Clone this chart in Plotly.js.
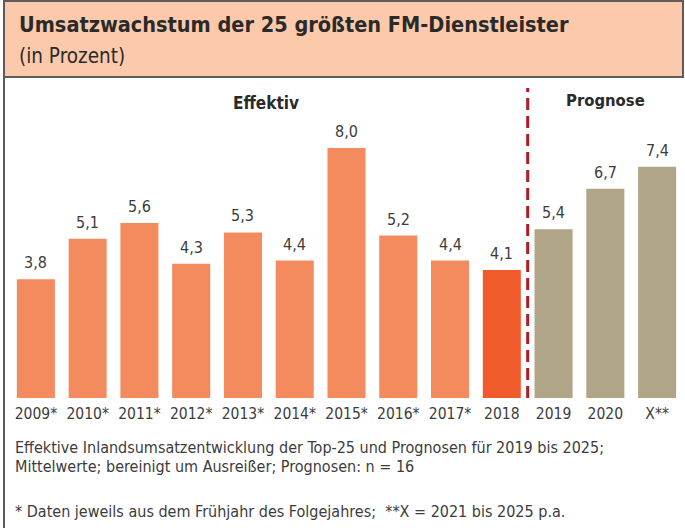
<!DOCTYPE html>
<html>
<head>
<meta charset="utf-8">
<script src="https://cdn.plot.ly/plotly-3.0.1.min.js"></script>
<style>
html,body{margin:0;padding:0;background:#fff;}
#chart{width:685px;height:528px;}
</style>
</head>
<body>
<div id="chart"></div>
<script>
// ---- data ----
const categories = ["2009*","2010*","2011*","2012*","2013*","2014*","2015*","2016*","2017*","2018","2019","2020","X**"];
const values = [3.8, 5.1, 5.6, 4.3, 5.3, 4.4, 8.0, 5.2, 4.4, 4.1, 5.4, 6.7, 7.4];
const groups = ["eff","eff","eff","eff","eff","eff","eff","eff","eff","current","prog","prog","prog"];
const titleText = "Umsatzwachstum der 25 größten FM-Dienstleister";
const subtitleText = "(in Prozent)";
const sectionLabels = ["Effektiv", "Prognose"];
const footnotes = [
  "Effektive Inlandsumsatzentwicklung der Top-25 und Prognosen für 2019 bis 2025;",
  "Mittelwerte; bereinigt um Ausreißer; Prognosen: n = 16",
  "* Daten jeweils aus dem Frühjahr des Folgejahres;  **X = 2021 bis 2025 p.a."
];

// ---- styles ----
const W = 685, H = 528;
const M = {l: 10, r: 2, t: 123, b: 130};
const PW = W - M.l - M.r, PH = H - M.t - M.b;
const px = x => (x - M.l) / PW;
const py = y => (H - M.b - y) / PH;
const groupColor = {eff: "#F48B5F", current: "#F15A2B", prog: "#B1A588"};
const FONT = "'DejaVu Sans Condensed', 'Liberation Sans', sans-serif";
const textColor = "#3c3c3c";

const trace = {
  type: "bar",
  x: categories,
  y: values,
  marker: {color: groups.map(g => groupColor[g]), line: {width: 0}},
  hoverinfo: "skip"
};

const annotations = [];
values.forEach((v, i) => {
  annotations.push({
    x: i, y: v, xref: "x", yref: "y",
    text: v.toFixed(1).replace(".", ","),
    showarrow: false, yanchor: "bottom", yshift: 5,
    font: {family: FONT, size: 16, color: textColor}
  });
});
annotations.push({x: px(17), y: py(25), xref: "paper", yref: "paper", xanchor: "left", yanchor: "middle",
  text: "<b>" + titleText + "</b>", showarrow: false, font: {family: FONT, size: 21.5, color: "#2a2a2a"}});
annotations.push({x: px(17), y: py(56), xref: "paper", yref: "paper", xanchor: "left", yanchor: "middle",
  text: subtitleText, showarrow: false, font: {family: FONT, size: 20.5, color: "#2a2a2a"}});
annotations.push({x: px(266), y: py(103), xref: "paper", yref: "paper", xanchor: "center", yanchor: "middle",
  text: "<b>" + sectionLabels[0] + "</b>", showarrow: false, font: {family: FONT, size: 17, color: "#2a2a2a"}});
annotations.push({x: px(605), y: py(101), xref: "paper", yref: "paper", xanchor: "center", yanchor: "middle",
  text: "<b>" + sectionLabels[1] + "</b>", showarrow: false, font: {family: FONT, size: 16.5, color: "#2a2a2a"}});
const footY = [447, 466, 511];
footnotes.forEach((t, i) => {
  annotations.push({x: px(13), y: py(footY[i]), xref: "paper", yref: "paper", xanchor: "left", yanchor: "middle",
    text: t, showarrow: false, font: {family: FONT, size: 16, color: textColor}});
});

const shapes = [
  {type: "rect", xref: "paper", yref: "paper", x0: px(4), x1: px(683), y0: py(77), y1: py(1),
   fillcolor: "#FCCAAB", line: {color: "#5c5c5c", width: 2}, layer: "below"},
  {type: "line", xref: "paper", yref: "paper", x0: px(4), x1: px(4), y0: py(77), y1: py(528),
   line: {color: "#5c5c5c", width: 2}},
  {type: "line", xref: "x", yref: "paper", x0: 9.5, x1: 9.5, y0: 0, y1: py(88),
   line: {color: "#B01C23", width: 3, dash: "12px,6px"}}
];

const layout = {
  width: W, height: H,
  margin: M,
  paper_bgcolor: "#fff", plot_bgcolor: "rgba(0,0,0,0)",
  showlegend: false,
  bargap: 0.265,
  xaxis: {type: "category", range: [-0.5, categories.length - 0.5], showgrid: false, zeroline: false,
    showline: false, ticks: "", ticklabelstandoff: 4,
    tickfont: {family: FONT, size: 15.5, color: textColor}, fixedrange: true},
  yaxis: {range: [0, 8.8], visible: false, fixedrange: true},
  annotations: annotations,
  shapes: shapes
};

Plotly.newPlot("chart", [trace], layout, {displayModeBar: false, staticPlot: true});
</script>
</body>
</html>
